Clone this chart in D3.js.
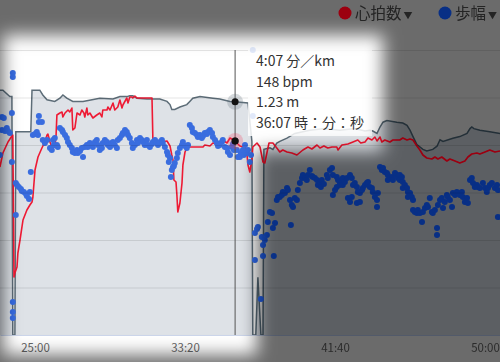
<!DOCTYPE html>
<html><head><meta charset="utf-8">
<script src="https://cdn.jsdelivr.net/npm/d3@7"></script>
<style>
html,body{margin:0;padding:0;background:#fff;}
svg{display:block;}
text{font-family:"Noto Sans CJK JP","Noto Sans",sans-serif;}
</style></head><body>
<svg id="c" width="500" height="362"></svg>
<script>
// ---- data (time in seconds) ----
const xTicks = [1500, 2000, 2500, 3000];
// speed in km/h (plotted as pace area)
const speedKmh = [[1383,15.3],[1393,15.3],[1416,14.9],[1423,14.9],[1426,0],[1433,0],[1436,12.7],[1486,12.7],[1490,15.3],[1516,15.3],[1526,15.0],[1540,14.7],[1566,14.6],[1583,14.8],[1593,15.0],[1606,14.8],[1626,14.6],[1660,14.6],[1716,14.8],[1760,14.75],[1783,14.9],[1806,14.9],[1816,14.95],[1826,14.95],[1840,14.8],[1873,14.75],[1916,14.75],[1940,14.6],[1950,14.4],[1956,14.1],[1966,14.1],[1983,14.25],[2006,14.4],[2016,14.6],[2026,14.8],[2050,14.9],[2093,14.8],[2116,14.75],[2150,14.6],[2167,14.58],[2183,14.55],[2210,14.5],[2223,12.1],[2226,0],[2236,0],[2243,3.6],[2253,0],[2260,0],[2263,11.6],[2283,11.7],[2293,11.6],[2306,12.0],[2316,12.1],[2340,12.3],[2366,12.6],[2416,12.8],[2466,12.9],[2516,12.8],[2566,12.9],[2600,12.75],[2616,12.8],[2626,12.75],[2640,12.6],[2650,13.0],[2660,13.3],[2673,13.4],[2706,13.3],[2726,13.25],[2740,13.1],[2750,12.8],[2760,12.4],[2773,11.9],[2793,11.6],[2806,11.5],[2826,11.6],[2840,11.8],[2850,12.2],[2860,12.1],[2893,12.3],[2916,12.4],[2940,12.6],[2950,12.9],[2956,13.0],[2963,12.9],[2983,12.8],[3016,12.7],[3050,12.6]];
// heart rate bpm
const heartRate = [[1383,135],[1393,142],[1410,147.5],[1423,150.5],[1426,151],[1430,80],[1433,82],[1440,85],[1443,92],[1450,98.5],[1460,108.5],[1473,113.5],[1483,116],[1490,117.5],[1493,120],[1500,133.5],[1510,140],[1523,144.5],[1533,147.5],[1540,151],[1543,151.5],[1550,147.5],[1556,145],[1566,145],[1570,150],[1573,161],[1583,162],[1590,162.5],[1593,160],[1600,162],[1610,163.5],[1616,162.5],[1623,164.5],[1626,153.5],[1633,154.5],[1640,162],[1650,161],[1656,163.5],[1663,162],[1666,160],[1673,164.5],[1676,161],[1683,162],[1693,159.5],[1706,161],[1716,162],[1723,160],[1726,163.5],[1740,163.5],[1743,165],[1750,163.5],[1760,167],[1766,163.5],[1776,165],[1783,168.5],[1790,164.5],[1793,166],[1806,169.5],[1810,167],[1816,170],[1823,170],[1826,169.5],[1833,170.5],[1840,169.5],[1890,169.5],[1893,148.5],[1916,147.5],[1940,148],[1950,145.5],[1956,141],[1960,138.5],[1963,128.5],[1970,127.5],[1973,121],[1976,112.5],[1983,117],[1990,127],[1993,136],[2000,142.5],[2006,144.5],[2016,145],[2060,145],[2066,146],[2083,145.5],[2093,147],[2106,146.5],[2116,146],[2126,148.5],[2140,147],[2150,149.5],[2167,148],[2173,147],[2183,145.5],[2193,145],[2200,146],[2206,142],[2210,136],[2216,132.5],[2223,138.5],[2226,145],[2240,147],[2250,145],[2260,137.5],[2266,137],[2273,142],[2280,147],[2293,147],[2306,144.5],[2316,142.5],[2326,143.5],[2340,142.5],[2356,142],[2373,141],[2393,143.5],[2410,145],[2423,144],[2440,146],[2450,144.5],[2463,145.5],[2476,144.5],[2490,145],[2506,145],[2510,143.5],[2523,146],[2543,146.5],[2560,147.5],[2576,148.5],[2586,147],[2600,147.5],[2610,149.5],[2623,148.5],[2633,150],[2640,148],[2650,150],[2656,147.5],[2666,148.5],[2683,147.5],[2693,148.5],[2716,148.5],[2726,149.5],[2740,148.5],[2750,149],[2760,148.5],[2773,145.5],[2783,143.5],[2793,141],[2806,139.5],[2823,139],[2833,140],[2843,139],[2856,140],[2873,138],[2883,139],[2900,138],[2916,137],[2933,138],[2943,140],[2956,141.5],[2973,142],[2983,141.5],[3000,142.5],[3016,143.5],[3033,142.5],[3050,143]];
// stride in metres
const stride = [[1426,1.57],[1426,1.55],[1423,1.37],[1390,1.35],[1396,1.345],[1390,1.285],[1400,1.28],[1406,1.295],[1410,1.28],[1416,1.27],[1383,1.16],[1423,1.125],[1436,1.02],[1440,1.01],[1446,1.0],[1453,0.99],[1456,0.98],[1463,0.975],[1470,0.965],[1473,0.955],[1480,0.94],[1483,0.975],[1486,1.075],[1436,0.86],[1426,0.425],[1426,0.375],[1426,0.345],
[1493,1.26],[1500,1.265],[1506,1.275],[1510,1.26],[1513,1.355],[1513,1.325],[1523,1.325],[1526,1.235],[1533,1.22],[1540,1.235],[1550,1.195],[1556,1.185],[1560,1.235],[1563,1.21],[1566,1.245],[1573,1.21],[1576,1.2],[1583,1.295],[1590,1.285],[1593,1.275],[1600,1.26],[1606,1.245],[1610,1.225],[1616,1.21],[1623,1.195],[1626,1.175],[1633,1.17],[1640,1.185],[1643,1.17],[1650,1.18],[1656,1.195],[1660,1.15],[1666,1.2],[1673,1.21],[1676,1.2],[1683,1.22],[1690,1.21],[1693,1.2],[1700,1.225],[1706,1.235],[1710,1.21],[1716,1.185],[1723,1.195],[1726,1.22],[1733,1.235],[1740,1.225],[1743,1.21],[1750,1.2],[1756,1.22],[1760,1.225],[1766,1.21],[1773,1.195],[1776,1.235],[1783,1.245],[1790,1.26],[1793,1.27],[1800,1.285],[1806,1.275],[1810,1.26],[1816,1.245],[1823,1.22],[1826,1.195],[1833,1.21],[1840,1.235],[1843,1.22],[1850,1.245],[1856,1.235],[1860,1.225],[1866,1.21],[1873,1.235],[1876,1.21],[1883,1.2],[1890,1.215],[1893,1.225],[1900,1.235],[1906,1.22],[1910,1.21],[1916,1.225],[1923,1.235],[1926,1.22],[1933,1.2],[1940,1.175],[1943,1.16],[1946,1.125],[1950,1.145],[1953,1.05],[1956,1.085],[1960,1.1],[1963,1.105],[1966,1.12],[1973,1.145],[1976,1.17],[1983,1.195],[1990,1.21],[1993,1.225],[2000,1.205],[2006,1.195],[2010,1.21],[2016,1.31],[2023,1.295],[2026,1.275],[2033,1.27],[2040,1.26],[2043,1.25],[2050,1.26],[2056,1.245],[2060,1.255],[2066,1.27],[2073,1.265],[2076,1.275],[2083,1.285],[2090,1.27],[2093,1.25],[2100,1.235],[2106,1.22],[2110,1.205],[2116,1.21],[2123,1.225],[2126,1.235],[2133,1.2],[2140,1.195],[2143,1.175],[2150,1.16],[2156,1.2],[2160,1.215],[2163,1.185],[2167,1.23],[2173,1.185],[2176,1.15],[2183,1.15],[2186,1.17],[2193,1.185],[2196,1.16],[2200,1.21],[2206,1.17],[2210,1.185],[2216,1.125],[2220,1.16],[2226,1.685],[2226,1.355],
[2233,0.77],[2240,0.79],[2243,0.8],[2233,0.635],[2256,0.75],[2260,0.71],[2266,0.735],[2273,0.76],[2260,0.655],[2253,0.44],[2276,0.825],[2283,0.875],[2290,0.87],[2293,0.795],[2300,0.82],[2296,0.655],[2306,0.935],[2310,0.95],[2316,0.95],[2323,0.96],[2326,0.975],[2333,0.97],[2340,0.995],[2343,0.985],[2350,0.935],[2353,0.81],[2356,0.91],[2360,0.9],[2366,0.945],[2373,0.935],[2376,0.985],[2383,1.02],[2390,1.045],[2393,1.06],[2400,1.045],[2406,1.035],[2410,1.06],[2416,1.085],[2423,1.055],[2426,1.05],[2433,1.045],[2440,1.035],[2443,1.01],[2450,1.02],[2453,1.0],[2456,1.035],[2463,1.015],[2473,1.06],[2476,1.045],[2483,1.085],[2490,1.095],[2493,1.06],[2493,0.96],[2500,0.985],[2506,1.05],[2506,1.0],[2510,1.035],[2516,1.025],[2516,1.01],[2526,1.045],[2526,1.01],[2533,1.025],[2540,1.045],[2543,0.945],[2550,1.06],[2550,0.925],[2556,1.045],[2556,0.95],[2560,1.01],[2566,1.02],[2573,1.0],[2573,0.92],[2576,0.975],[2583,0.97],[2583,0.925],[2590,0.985],[2593,0.995],[2600,1.01],[2606,1.02],[2610,1.025],[2616,1.0],[2623,0.995],[2626,0.975],[2633,0.95],[2640,0.935],[2640,0.9],[2643,0.97],[2650,1.1],[2656,1.085],[2660,1.095],[2666,1.075],[2673,1.07],[2676,1.06],[2676,1.035],[2683,1.045],[2690,1.05],[2693,1.035],[2700,1.07],[2706,1.06],[2710,1.045],[2716,1.06],[2716,1.035],[2723,1.05],[2726,1.025],[2726,0.995],[2733,1.01],[2740,0.995],[2743,0.975],[2743,0.95],[2750,0.97],[2756,0.95],[2760,0.935],[2760,0.885],[2766,0.875],[2773,0.87],[2776,0.885],[2783,0.87],[2790,0.825],[2793,0.875],[2800,0.895],[2806,0.91],[2810,0.9],[2816,0.945],[2823,0.875],[2826,0.87],[2833,0.885],[2840,0.795],[2840,0.76],[2843,0.91],[2850,0.935],[2856,0.945],[2860,0.895],[2866,0.925],[2873,0.96],[2876,0.95],[2883,0.935],[2890,0.9],[2893,0.97],[2900,0.96],[2906,0.975],[2910,0.97],[2916,0.96],[2923,0.975],[2926,0.95],[2933,0.925],[2940,0.945],[2943,0.92],[2950,1.035],[2956,1.045],[2960,1.02],[2966,1.0],[2973,1.01],[2976,1.0],[2983,0.995],[2993,1.02],[3000,0.995],[3006,0.975],[3010,0.995],[3016,1.01],[3023,1.02],[3033,0.995],[3040,1.01],[3043,0.985],[3043,0.85]];
const legendNames = ["心拍数", "歩幅"];
const legendColors = ["#ee1a34", "#3a6ddf"];
const hoverTime = 2167;
const hoverPaceSec = 247;   // 4:07 /km
const hoverHR = 148;
const hoverStride = 1.23;
const tooltipLines = ["4:07 分／km", "148 bpm", "1.23 m", "36:07 時：分：秒"];

(function(){
// ---- scales ----
const W = 500, H = 362, pTop = 50, pBottom = 335;
const x = d3.scaleLinear().domain([1383.33, 3050]).range([0, W]);
const ySpeed = d3.scaleLinear().domain([0, 17.8125]).range([pBottom, pTop]);
const yHR = d3.scaleLinear().domain([51, 193.5]).range([pBottom, pTop]);
const yStride = d3.scaleLinear().domain([0.26, 1.685]).range([pBottom, pTop]);
const yGrid = d3.scaleLinear().domain([0, 6]).range([pBottom, pTop]);
const fmt = t => Math.floor(t/60) + ":" + String(Math.round(t%60)).padStart(2,"0");

const svg = d3.select("#c");
const defs = svg.append("defs");
defs.append("clipPath").attr("id","plot").append("rect")
  .attr("x",0).attr("y",pTop-8).attr("width",W).attr("height",pBottom-pTop+8);

// dimming filter (darken but keep some saturation)
const k = 0.34, a = 0.42, Lr = 0.2126, Lg = 0.7152, Lb = 0.0722;
const m = [
  a+k-k*Lr, -k*Lg, -k*Lb, 0, 0,
  -k*Lr, a+k-k*Lg, -k*Lb, 0, 0,
  -k*Lr, -k*Lg, a+k-k*Lb, 0, 0,
  0,0,0,1,0].join(" ");
defs.append("filter").attr("id","dim").attr("filterUnits","userSpaceOnUse")
  .attr("x",0).attr("y",0).attr("width",W).attr("height",H)
  .attr("color-interpolation-filters","sRGB")
  .append("feColorMatrix").attr("type","matrix").attr("values", m);
defs.append("filter").attr("id","soft").attr("filterUnits","userSpaceOnUse")
  .attr("x",-60).attr("y",-60).attr("width",W+120).attr("height",H+120)
  .append("feGaussianBlur").attr("stdDeviation",8.5);
const mask = defs.append("mask").attr("id","outside").attr("maskUnits","userSpaceOnUse")
  .attr("x",0).attr("y",0).attr("width",W).attr("height",H);
mask.append("rect").attr("width",W).attr("height",H).attr("fill","#fff");
const spot = mask.append("g").attr("filter","url(#soft)");
spot.append("rect").attr("x",3).attr("y",35).attr("width",380).attr("height",116).attr("fill","#000");
spot.append("rect").attr("x",3).attr("y",35).attr("width",254).attr("height",320).attr("fill","#000");

const scene = svg.append("g").attr("id","scene");
scene.append("rect").attr("width",W).attr("height",H).attr("fill","#fff");

const plot = scene.append("g").attr("clip-path","url(#plot)");
// pace area
plot.append("path").datum(speedKmh)
  .attr("d", d3.area().x(d=>x(d[0])).y0(pBottom).y1(d=>ySpeed(d[1])))
  .attr("fill","#dee2e7");
// grid
scene.append("g").selectAll("line").data(yGrid.ticks(6).filter(v=>v>0)).join("line")
  .attr("x1",0).attr("x2",W).attr("y1",d=>yGrid(d)+0.5).attr("y2",d=>yGrid(d)+0.5)
  .attr("stroke","rgba(0,0,0,0.1)");
// pace line
plot.append("path").datum(speedKmh)
  .attr("d", d3.line().x(d=>x(d[0])).y(d=>ySpeed(d[1])))
  .attr("fill","none").attr("stroke","#5d6d78").attr("stroke-width",1.5);
// heart rate
plot.append("path").datum(heartRate)
  .attr("d", d3.line().x(d=>x(d[0])).y(d=>yHR(d[1])))
  .attr("fill","none").attr("stroke",legendColors[0]).attr("stroke-width",1.6)
  .attr("stroke-linejoin","round");
// stride dots
plot.append("g").selectAll("circle").data(stride).join("circle")
  .attr("cx",d=>x(d[0])).attr("cy",d=>yStride(d[1])).attr("r",3)
  .attr("fill",legendColors[1]);

// x axis
const ax = scene.append("g").attr("transform",`translate(0,${pBottom})`)
  .call(d3.axisBottom(x).tickValues(xTicks).tickFormat(fmt).tickSize(0));
ax.select(".domain").attr("stroke","#ccd6eb");
ax.selectAll("text").attr("y",17).attr("dy",0).attr("fill","#666")
  .style("font-size","11.5px").style("font-family",'"Noto Sans CJK JP",sans-serif');

// crosshair
const hx = x(hoverTime);
scene.append("line").attr("x1",hx).attr("x2",hx).attr("y1",pTop).attr("y2",pBottom)
  .attr("stroke","#555").attr("stroke-width",1);
// markers
const py = ySpeed(3600/hoverPaceSec);
scene.append("circle").attr("cx",hx).attr("cy",py).attr("r",8).attr("fill","rgba(93,109,120,0.25)");
scene.append("circle").attr("cx",hx).attr("cy",py).attr("r",3.5).attr("fill","#111");
scene.append("circle").attr("cx",hx).attr("cy",yStride(hoverStride)).attr("r",3.5).attr("fill","#111");
scene.append("circle").attr("cx",hx).attr("cy",yHR(hoverHR)).attr("r",8).attr("fill","rgba(238,60,90,0.25)");
scene.append("circle").attr("cx",hx).attr("cy",yHR(hoverHR)).attr("r",3.5).attr("fill","#111");

// tooltip
const tt = scene.append("g");
tt.append("rect").attr("x",248).attr("y",47).attr("width",124).attr("height",89)
  .attr("fill","#fff").attr("opacity",0.85);
tt.selectAll("text").data(tooltipLines).join("text")
  .attr("x",256).attr("y",(d,i)=>66+i*20.5).attr("fill","#333")
  .style("font-size","14px").text(d=>d);

// legend
const lgX = [345, 445];
const legend = scene.append("g").selectAll("g").data(legendNames).join("g");
legend.append("circle").attr("cx",(d,i)=>lgX[i]).attr("cy",13).attr("r",6.5)
  .attr("fill",(d,i)=>legendColors[i]);
const lt = legend.append("text").attr("x",(d,i)=>lgX[i]+10).attr("y",18.5)
  .attr("fill","#555").style("font-size","15.5px");
lt.append("tspan").text(d=>d);
lt.append("tspan").attr("dx",2).style("font-size","9px").text("▼");

// spotlight: dimmed copy everywhere outside the highlight
svg.append("use").attr("href","#scene").attr("filter","url(#dim)").attr("mask","url(#outside)");
})();
</script>
</body></html>
